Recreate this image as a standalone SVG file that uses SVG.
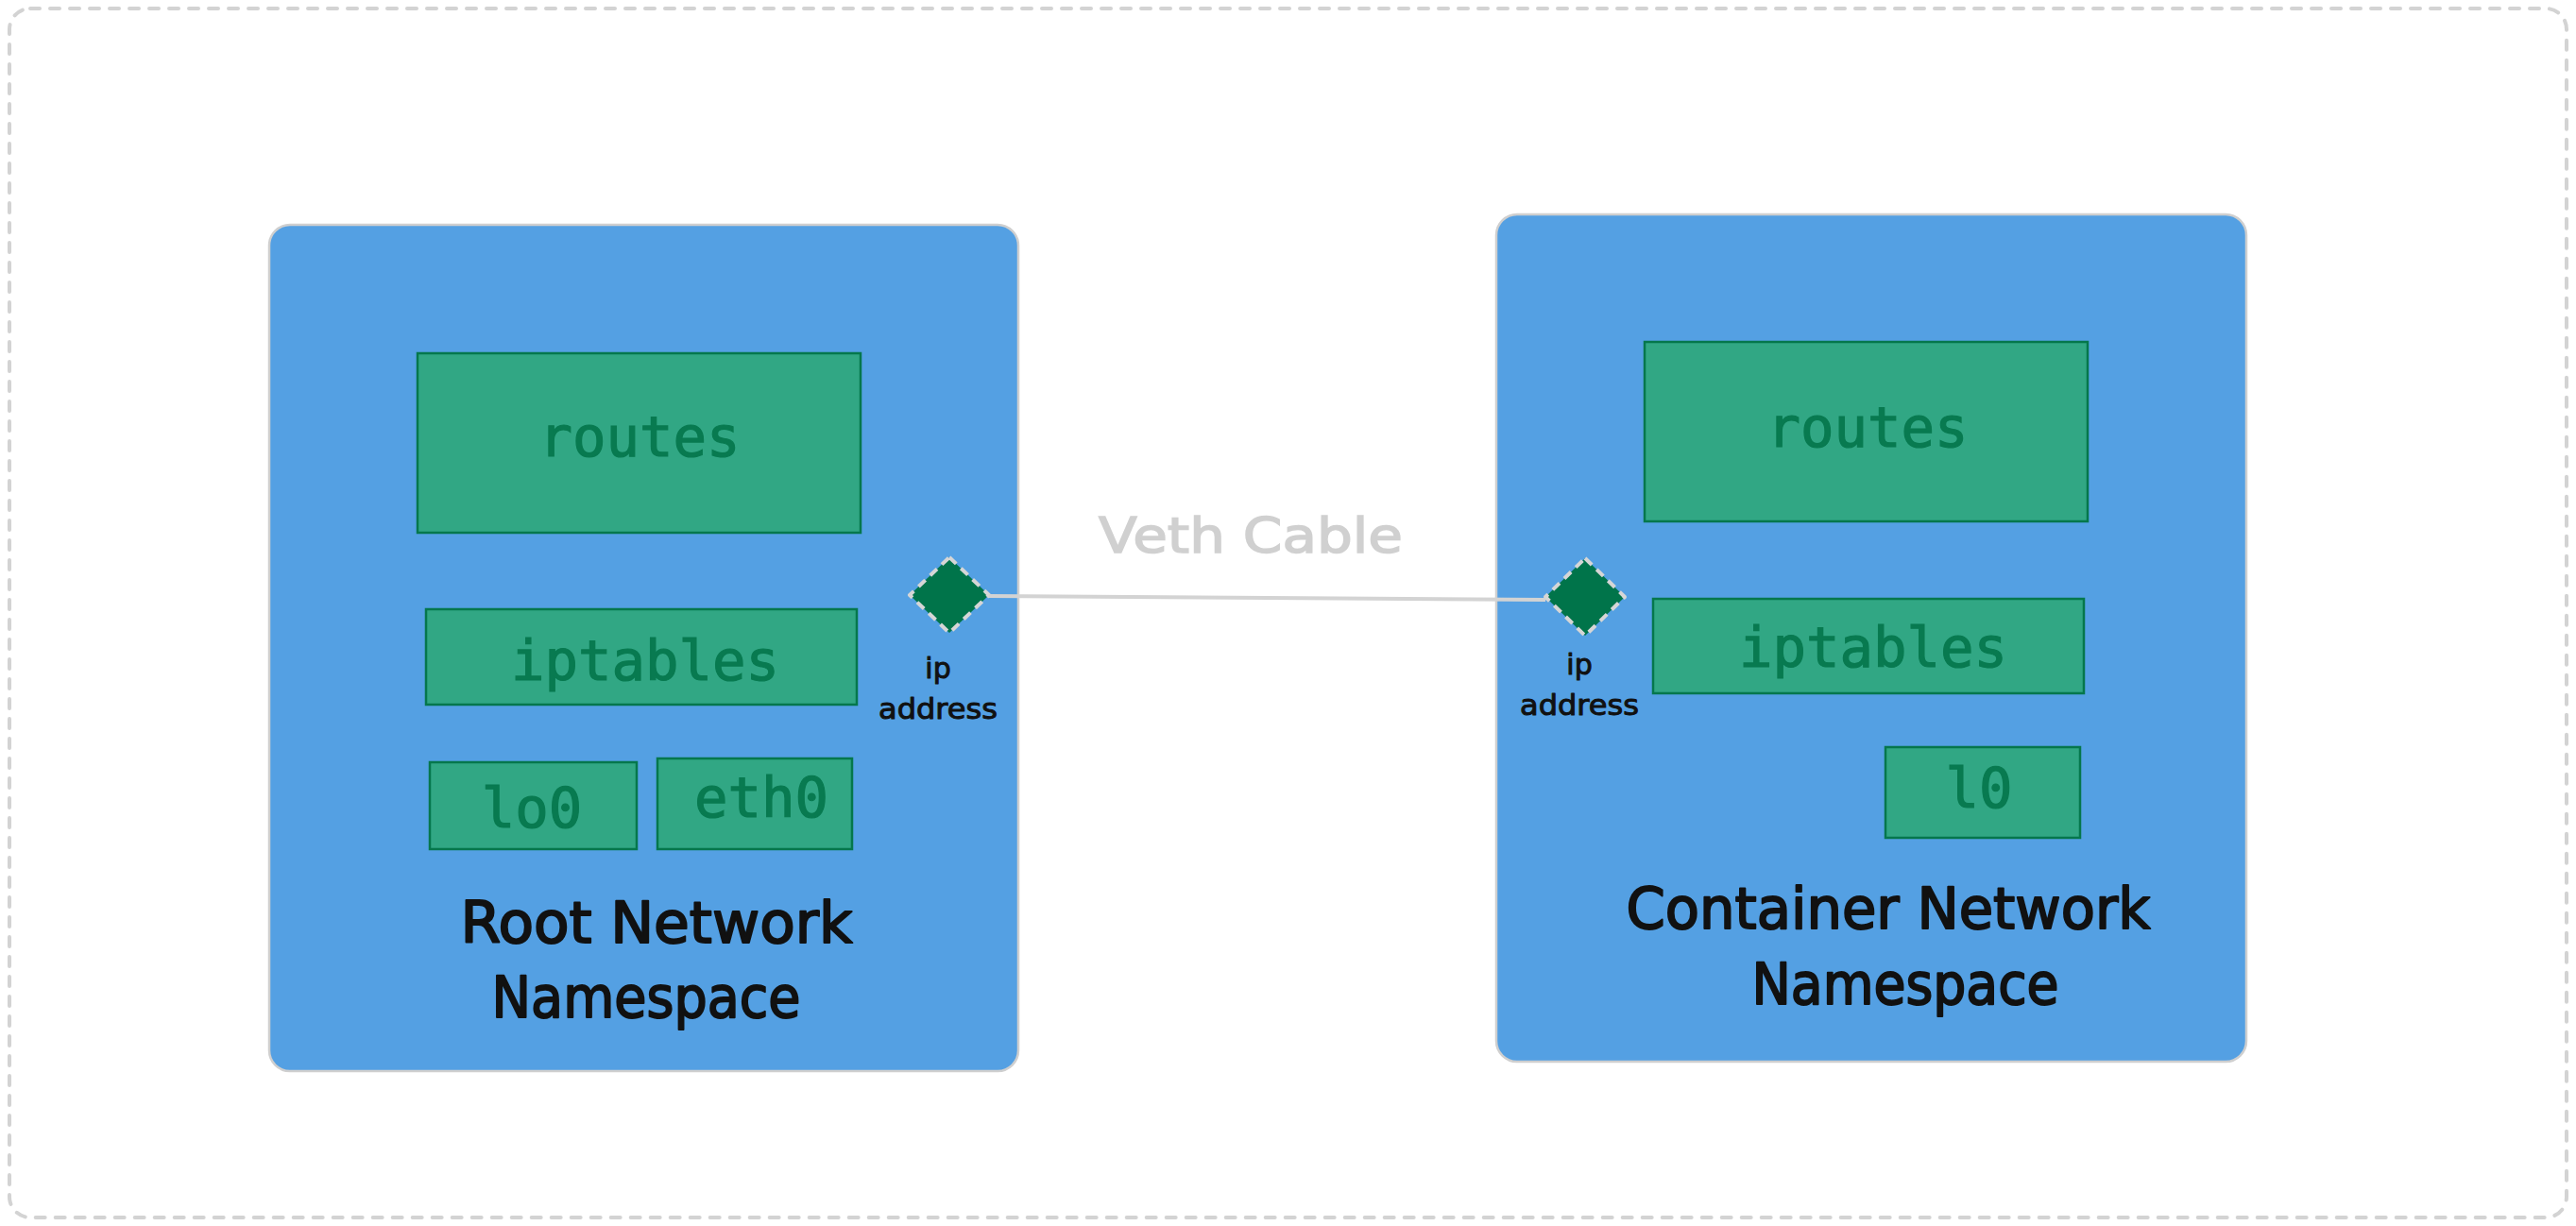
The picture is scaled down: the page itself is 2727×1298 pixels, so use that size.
<svg xmlns="http://www.w3.org/2000/svg" width="2727" height="1298" viewBox="0 0 2727 1298">
  <style>
    .ns { fill: #54a0e3; stroke: #cfcfcf; stroke-width: 2.5; }
    .box { fill: #31a784; stroke: #05774c; stroke-width: 2.5; }
    .code { font-family: "DejaVu Sans Mono", "Liberation Mono", monospace; font-size: 59px; fill: #087a50; stroke: #087a50; stroke-width: 1.2; text-anchor: middle; }
    .hand { font-family: "DejaVu Sans", "Liberation Sans", sans-serif; fill: #111111; stroke: #111111; text-anchor: middle; stroke-linejoin: round; }
    .title { font-size: 60px; stroke-width: 2; }
    .small { font-size: 30px; stroke-width: 1; }
    .port { fill: #00744a; stroke: #d6d6d6; stroke-width: 4; stroke-dasharray: 10 7; stroke-linejoin: round; }
    .cable { stroke: #d3d3d3; stroke-width: 4; fill: none; }
    .cablelabel { font-family: "DejaVu Sans", "Liberation Sans", sans-serif; font-size: 52px; fill: #d0d0d0; stroke: #d0d0d0; stroke-width: 1.5; text-anchor: middle; }
  </style>
  <rect x="0" y="0" width="2727" height="1298" fill="#ffffff"/>
  <g id="frame">
    <rect x="10" y="9" width="2707" height="1280" rx="22" fill="none" stroke="#d3d3d3" stroke-width="4" stroke-dasharray="10 11" stroke-linecap="round"/>
  </g>

  <g id="root-namespace">
    <rect class="ns" x="285" y="238" width="793" height="896" rx="22"/>
    <text class="hand title" x="695" y="998" textLength="415" lengthAdjust="spacingAndGlyphs">Root Network</text>
    <text class="hand title" x="684" y="1077" textLength="327" lengthAdjust="spacingAndGlyphs">Namespace</text>
  </g>
  <g id="root-routes">
    <rect class="box" x="442" y="374" width="469" height="190"/>
    <text class="code" x="677" y="483">routes</text>
  </g>
  <g id="root-iptables">
    <rect class="box" x="451" y="645" width="456" height="101"/>
    <text class="code" x="683" y="720">iptables</text>
  </g>
  <g id="root-lo0">
    <rect class="box" x="455" y="807" width="219" height="92"/>
    <text class="code" x="563" y="876">lo0</text>
  </g>
  <g id="root-eth0">
    <rect class="box" x="696" y="803" width="206" height="96"/>
    <text class="code" x="806" y="865">eth0</text>
  </g>
  <g id="root-port">
    <polygon class="port" points="1005,590 1047,630 1005,670 963,630"/>
    <text class="hand small" x="993" y="718">ip</text>
    <text class="hand small" x="993" y="761" textLength="126" lengthAdjust="spacingAndGlyphs">address</text>
  </g>

  <g id="container-namespace">
    <rect class="ns" x="1584" y="227" width="794" height="897" rx="22"/>
    <text class="hand title" x="1999" y="983" textLength="555" lengthAdjust="spacingAndGlyphs">Container Network</text>
    <text class="hand title" x="2017" y="1063" textLength="325" lengthAdjust="spacingAndGlyphs">Namespace</text>
  </g>
  <g id="container-routes">
    <rect class="box" x="1741" y="362" width="469" height="190"/>
    <text class="code" x="1977" y="473">routes</text>
  </g>
  <g id="container-iptables">
    <rect class="box" x="1750" y="634" width="456" height="100"/>
    <text class="code" x="1983" y="706">iptables</text>
  </g>
  <g id="container-l0">
    <rect class="box" x="1996" y="791" width="206" height="96"/>
    <text class="code" x="2095" y="855">l0</text>
  </g>
  <g id="container-port">
    <polygon class="port" points="1678,591 1720,632 1678,673 1636,632"/>
    <text class="hand small" x="1672" y="714">ip</text>
    <text class="hand small" x="1672" y="757" textLength="126" lengthAdjust="spacingAndGlyphs">address</text>
  </g>

  <g id="connectors">
    <line class="cable" x1="1047" y1="631" x2="1636" y2="635"/>
    <text class="cablelabel" x="1324" y="585" textLength="322" lengthAdjust="spacingAndGlyphs">Veth Cable</text>
  </g>
</svg>
